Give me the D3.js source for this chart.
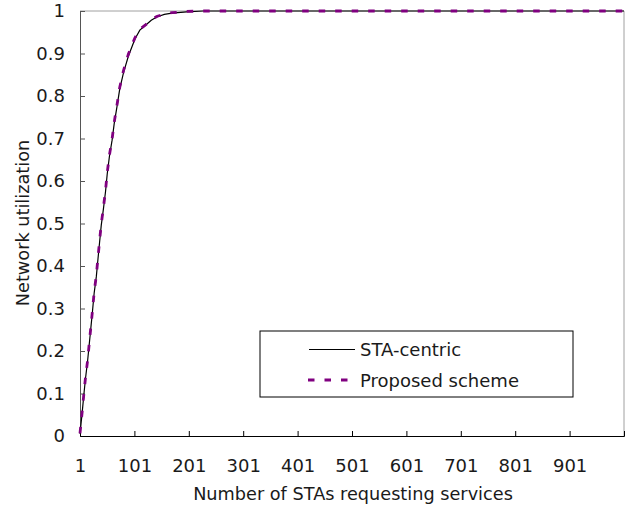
<!DOCTYPE html>
<html>
<head>
<meta charset="utf-8">
<script src="https://cdn.jsdelivr.net/npm/d3@7"></script>
<style>
body { margin: 0; background: #fff; }
text { font-family: "DejaVu Sans", sans-serif; fill: #1a1a1a; }
</style>
</head>
<body>
<script>
// number of STAs requesting services (x) and utilization
const staCount = [1, 3, 5, 8, 11, 15, 18, 21, 24, 27, 31, 34, 37, 40, 44, 48, 51, 55, 60, 64,
                  69, 74, 81, 90, 102, 111, 122, 132, 142, 156, 170, 197, 227, 1001];
const staCentric = [0.005, 0.03, 0.055, 0.096, 0.134, 0.177, 0.216, 0.255, 0.294, 0.336,
                    0.375, 0.416, 0.456, 0.495, 0.534, 0.576, 0.616, 0.657, 0.696, 0.736,
                    0.775, 0.816, 0.855, 0.894, 0.934, 0.955, 0.967, 0.978, 0.986, 0.992,
                    0.995, 0.998, 1.0, 1.0];
const proposed = [0.006, 0.032, 0.057, 0.098, 0.136, 0.178, 0.218, 0.257, 0.296, 0.338,
                  0.378, 0.419, 0.459, 0.498, 0.537, 0.579, 0.619, 0.66, 0.699, 0.739,
                  0.779, 0.82, 0.86, 0.899, 0.937, 0.957, 0.968, 0.979, 0.987, 0.993,
                  0.996, 0.999, 1.0, 1.0];
const xTicks = [1, 101, 201, 301, 401, 501, 601, 701, 801, 901];
const yTicks = [0, 0.1, 0.2, 0.3, 0.4, 0.5, 0.6, 0.7, 0.8, 0.9, 1];
const seriesNames = ['STA-centric', 'Proposed scheme'];

const svg = d3.select('body').append('svg')
              .attr('width', 637)
              .attr('height', 506);

const x = d3.scaleLinear().domain([1, 1001]).range([80, 624]);
const y = d3.scaleLinear().domain([0, 1]).range([436, 11]);

// plot border (top / right grey)
svg.append('line').attr('x1', x(1)).attr('x2', x(1001)).attr('y1', y(1)).attr('y2', y(1))
   .style('stroke', '#a0a0a0');
svg.append('line').attr('x1', x(1001)).attr('x2', x(1001)).attr('y1', y(1)).attr('y2', y(0))
   .style('stroke', '#a0a0a0');

const yAxis = svg.append('g').attr('transform', `translate(${x(1)},0)`)
   .call(d3.axisLeft(y).tickValues(yTicks).tickSize(-5).tickPadding(15).tickFormat(d => String(d)));
yAxis.select('.domain').style('stroke', '#555');
yAxis.selectAll('.tick line').style('stroke', '#555');
yAxis.selectAll('text').style('font-size', '18px').style('font-family', '"DejaVu Sans", sans-serif').style('fill', '#1a1a1a');

const xAxis = svg.append('g').attr('transform', `translate(0,${y(0)})`)
   .call(d3.axisBottom(x).tickValues(xTicks).tickSize(-5).tickPadding(23).tickFormat(d => String(d)));
xAxis.select('.domain').style('stroke', '#000');
xAxis.selectAll('.tick line').style('stroke', '#000');
xAxis.selectAll('text').style('font-size', '18px').style('font-family', '"DejaVu Sans", sans-serif').style('fill', '#1a1a1a');

const line = d3.line().x(d => x(d[0])).y(d => y(d[1]));

svg.append('path').datum(staCount.map((n, i) => [n, staCentric[i]]))
   .attr('d', line).style('fill', 'none').style('stroke', '#000').style('stroke-width', 1.2);
svg.append('path').datum(staCount.map((n, i) => [n, proposed[i]]))
   .attr('d', line).style('fill', 'none').style('stroke', '#800080').style('stroke-width', 2.8)
   .style('stroke-dasharray', '6.5,10');

// axis titles
svg.append('text').attr('x', 353).attr('y', 500).attr('text-anchor', 'middle')
   .style('font-size', '17.7px').text('Number of STAs requesting services');
svg.append('text').attr('transform', 'translate(29,223) rotate(-90)').attr('text-anchor', 'middle')
   .style('font-size', '17.7px').text('Network utilization');

// legend
const legend = svg.append('g').attr('transform', 'translate(260,331)');
legend.append('rect').attr('width', 313).attr('height', 66)
      .style('fill', '#fff').style('stroke', '#000');
legend.append('line').attr('x1', 49).attr('x2', 95).attr('y1', 18.5).attr('y2', 18.5)
      .style('stroke', '#000').style('stroke-width', 1.2);
legend.append('line').attr('x1', 48).attr('x2', 90).attr('y1', 49).attr('y2', 49)
      .style('stroke', '#800080').style('stroke-width', 2.8).style('stroke-dasharray', '6.5,10');
legend.append('text').attr('x', 100).attr('y', 25).style('font-size', '18px').text(seriesNames[0]);
legend.append('text').attr('x', 100).attr('y', 56).style('font-size', '18px').text(seriesNames[1]);
</script>
</body>
</html>
